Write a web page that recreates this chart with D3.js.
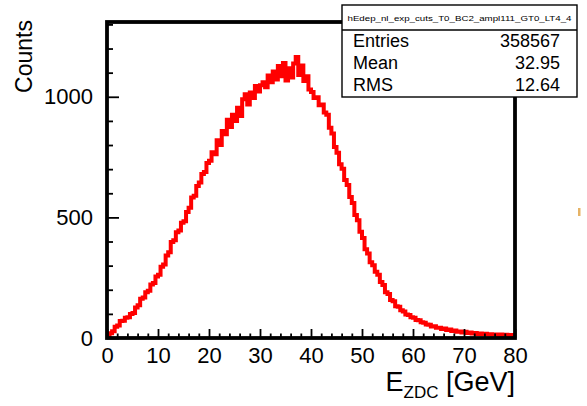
<!DOCTYPE html>
<html>
<head>
<meta charset="utf-8">
<script src="https://cdn.jsdelivr.net/npm/d3@7"></script>
<style>
  html, body { margin: 0; padding: 0; background: #fff; }
  svg { display: block; }
  text { font-family: "Liberation Sans", Arial, Helvetica, sans-serif; }
</style>
</head>
<body>
<svg id="chart" width="587" height="406"></svg>
<script>
// ---- data ----
const histName = "hEdep_nl_exp_cuts_T0_BC2_ampl111_GT0_LT4_4";
const statLabels = ["Entries", "Mean", "RMS"];
const statValues = ["358567", "32.95", "12.64"];
const xTicks = [0, 10, 20, 30, 40, 50, 60, 70, 80];
const yTicks = [0, 500, 1000];
const xRange = [0, 80];
const yRange = [0, 1310];
const binWidth = 0.5;
// bin contents, 160 bins of 0.5 GeV from 0 to 80
const counts = [
  8, 20, 28, 47, 52, 70, 72, 84, 86, 99, 104, 126, 136, 163, 168, 190, 196, 222, 228, 255,
  262, 295, 305, 342, 356, 398, 405, 438, 446, 478, 484, 522, 540, 582, 590, 630, 645, 680, 688, 725,
  735, 770, 762, 820, 800, 858, 845, 905, 875, 925, 900, 955, 920, 990, 1010, 968, 1018, 995, 1045, 1022,
  1048, 1060, 1040, 1088, 1060, 1105, 1072, 1128, 1085, 1140, 1068, 1118, 1080, 1138, 1165, 1090, 1130, 1065, 1085, 1030,
  1020, 995, 998, 965, 968, 935, 925, 872, 848, 792, 768, 720, 702, 655, 634, 585, 560, 510, 488, 440,
  415, 368, 350, 314, 302, 275, 262, 232, 220, 190, 182, 158, 152, 132, 130, 115, 110, 97, 95, 86,
  84, 75, 74, 65, 63, 56, 55, 48, 49, 42, 43, 37, 39, 33, 35, 29, 31, 26, 27, 23,
  26, 21, 23, 19, 21, 17, 19, 16, 18, 14, 16, 13, 15, 12, 14, 10, 13, 9, 12, 8
];

// ---- layout ----
const svg = d3.select("#chart");
const L = 107, R = 515, T = 22, B = 338;
const x = d3.scaleLinear().domain(xRange).range([L, R]);
const y = d3.scaleLinear().domain(yRange).range([B, T]);

// clip
svg.append("clipPath").attr("id", "clip")
  .append("rect").attr("x", L).attr("y", T).attr("width", R - L).attr("height", B - T);

// histogram step line
const pts = counts.map((c, i) => [xRange[0] + i * binWidth, c]);
pts.push([xRange[0] + counts.length * binWidth, counts[counts.length - 1]]);
const line = d3.line().x(d => x(d[0])).y(d => y(d[1])).curve(d3.curveStepAfter);
svg.append("path")
  .attr("d", line(pts))
  .attr("clip-path", "url(#clip)")
  .attr("fill", "none")
  .attr("stroke", "#ff0000")
  .attr("stroke-width", 4)
  .attr("stroke-linejoin", "miter");

const fontFam = '"Liberation Sans", Arial, sans-serif';

// x axis ticks (inward)
const xMinor = d3.range(xRange[0], xRange[1] + 0.001, 2).filter(v => v % 10 !== 0);
const gx = svg.append("g").attr("transform", `translate(0,${B})`)
  .call(d3.axisBottom(x).tickValues(xTicks).tickSize(-9).tickFormat(d3.format("d")).tickPadding(9));
gx.select(".domain").remove();
gx.selectAll(".tick line").attr("stroke", "#000").attr("stroke-width", 1.8);
gx.selectAll(".tick text").attr("font-size", 22).attr("fill", "#000").attr("font-family", fontFam);
const gxm = svg.append("g").attr("transform", `translate(0,${B})`)
  .call(d3.axisBottom(x).tickValues(xMinor).tickSize(-4.5).tickFormat(""));
gxm.select(".domain").remove();
gxm.selectAll(".tick line").attr("stroke", "#000").attr("stroke-width", 1.8);

// y axis ticks (inward)
const yMinor = d3.range(yRange[0], 1301, 100).filter(v => v % 500 !== 0);
const gy = svg.append("g").attr("transform", `translate(${L},0)`)
  .call(d3.axisLeft(y).tickValues(yTicks).tickSize(-12).tickFormat(d3.format("d")).tickPadding(14));
gy.select(".domain").remove();
gy.selectAll(".tick line").attr("stroke", "#000").attr("stroke-width", 1.8);
gy.selectAll(".tick text").attr("font-size", 22).attr("fill", "#000").attr("font-family", fontFam);
const gym = svg.append("g").attr("transform", `translate(${L},0)`)
  .call(d3.axisLeft(y).tickValues(yMinor).tickSize(-6).tickFormat(""));
gym.select(".domain").remove();
gym.selectAll(".tick line").attr("stroke", "#000").attr("stroke-width", 1.8);

// frame
svg.append("rect").attr("x", L).attr("y", T).attr("width", R - L).attr("height", B - T)
  .attr("fill", "none").attr("stroke", "#000").attr("stroke-width", 3.8);

// axis titles
svg.append("text").attr("transform", "translate(32,20) rotate(-90)")
  .attr("text-anchor", "end").attr("font-size", 23).attr("fill", "#000").text("Counts");
const xt = svg.append("text").attr("x", R).attr("y", 391).attr("text-anchor", "end")
  .attr("font-size", 27).attr("fill", "#000");
xt.append("tspan").text("E");
xt.append("tspan").attr("font-size", 17).attr("dy", 7).text("ZDC");
xt.append("tspan").attr("dy", -7).text(" [GeV]");

// stats box
const bx = 342, by = 5, bw = 235, bh = 92, titleH = 25;
svg.append("rect").attr("x", bx).attr("y", by).attr("width", bw).attr("height", bh)
  .attr("fill", "#fff").attr("stroke", "#000").attr("stroke-width", 1.4);
svg.append("line").attr("x1", bx).attr("x2", bx + bw).attr("y1", by + titleH).attr("y2", by + titleH)
  .attr("stroke", "#000").attr("stroke-width", 1.4);
svg.append("text").attr("x", bx + bw / 2).attr("y", by + 16).attr("text-anchor", "middle")
  .attr("font-size", 7.5).attr("fill", "#000")
  .attr("textLength", 224).attr("lengthAdjust", "spacingAndGlyphs").text(histName);
statLabels.forEach((lab, i) => {
  const yy = 47 + i * 22;
  svg.append("text").attr("x", 353).attr("y", yy).attr("font-size", 18).attr("fill", "#000").text(lab);
  svg.append("text").attr("x", 560).attr("y", yy).attr("text-anchor", "end")
    .attr("font-size", 18).attr("fill", "#000").text(statValues[i]);
});

// small stray mark at right edge
svg.append("rect").attr("x", 578).attr("y", 208).attr("width", 2.5).attr("height", 8)
  .attr("fill", "#e0a040").attr("opacity", 0.8);
</script>
</body>
</html>
